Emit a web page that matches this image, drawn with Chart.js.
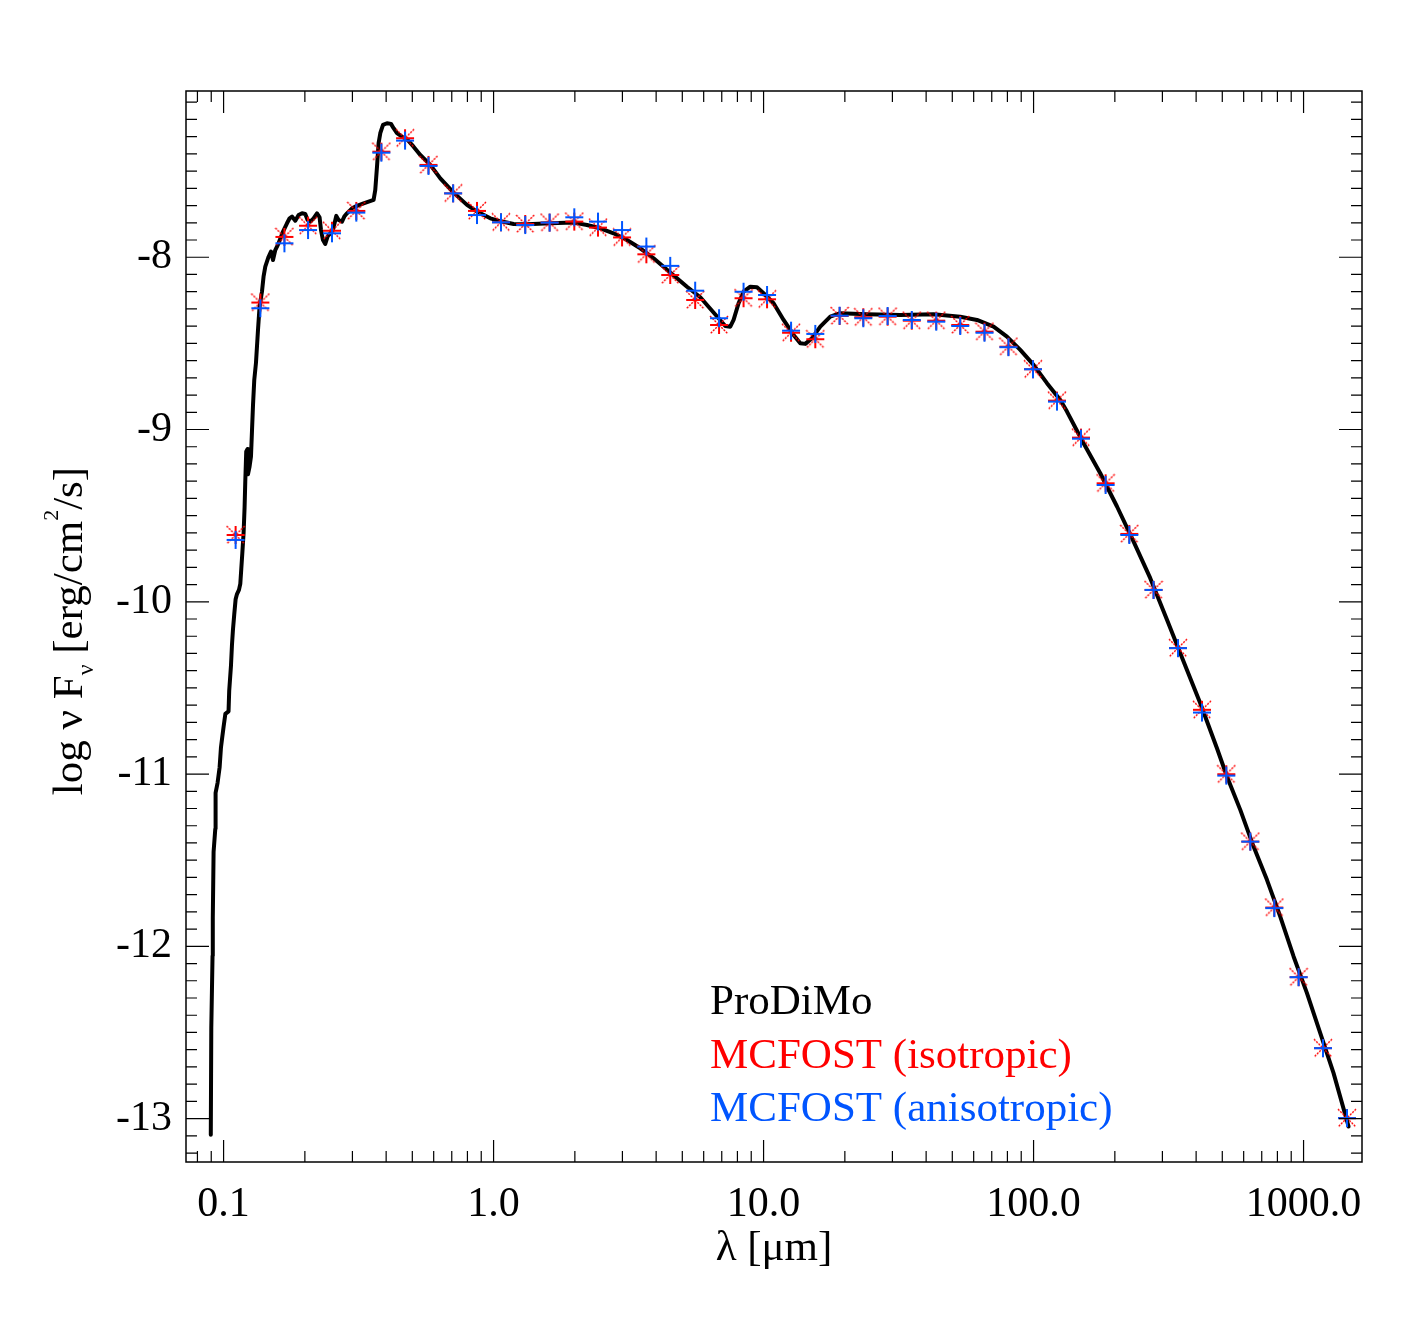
<!DOCTYPE html>
<html>
<head>
<meta charset="utf-8">
<script src="https://cdn.jsdelivr.net/npm/chart.js@4/dist/chart.umd.min.js"></script>
<style>
  html, body { margin: 0; padding: 0; background: #fff; }
  canvas { display: block; }
</style>
</head>
<body>
<canvas id="sed" width="1417" height="1337"></canvas>
<script>
// wavelengths of the MCFOST photometry points [micron]
const wavelength = [0.1108, 0.1368, 0.168, 0.2055, 0.252, 0.310, 0.384, 0.470, 0.574, 0.708,
  0.868, 1.065, 1.31, 1.612, 1.99, 2.436, 2.99, 3.68, 4.51, 5.58,
  6.84, 8.43, 10.3, 12.64, 15.54, 19.12, 23.4, 28.8, 35.4, 43.6,
  53.5, 65.8, 80.7, 99.5, 122.1, 149.8, 184.8, 226.2, 278.2, 342.6,
  420.5, 517.3, 634.7, 778.8, 958.3, 1180, 1448];

// log nu F_nu, MCFOST isotropic scattering
const mcfostIso = [-9.612, -8.263, -7.882, -7.817, -7.846, -7.731, -7.387, -7.309, -7.464, -7.629,
  -7.731, -7.797, -7.807, -7.799, -7.793, -7.828, -7.885, -7.983, -8.103, -8.248,
  -8.393, -8.238, -8.244, -8.438, -8.476, -8.341, -8.348, -8.345, -8.368, -8.368,
  -8.393, -8.432, -8.519, -8.650, -8.832, -9.047, -9.312, -9.606, -9.931, -10.269,
  -10.627, -11.001, -11.392, -11.775, -12.179, -12.591, -12.997];

// log nu F_nu, MCFOST anisotropic scattering
const mcfostAniso = [-9.641, -8.296, -7.919, -7.842, -7.861, -7.741, -7.393, -7.323, -7.470, -7.629,
  -7.755, -7.797, -7.813, -7.799, -7.768, -7.793, -7.842, -7.938, -8.050, -8.194,
  -8.354, -8.200, -8.219, -8.426, -8.445, -8.339, -8.354, -8.341, -8.364, -8.374,
  -8.399, -8.438, -8.522, -8.650, -8.838, -9.053, -9.322, -9.612, -9.931, -10.269,
  -10.643, -11.009, -11.392, -11.778, -12.179, -12.591, -12.997];

// ProDiMo SED (full curve)
const prodimoLam = [0.08966, 0.09004, 0.0910, 0.0912, 0.09182, 0.09316, 0.0934, 0.0950, 0.09665, 0.0978,
  0.0989, 0.1000, 0.1015, 0.1043, 0.1049, 0.1065, 0.1074, 0.1083, 0.1095, 0.1108,
  0.1121, 0.1140, 0.1153, 0.1163, 0.1173, 0.1186, 0.1196, 0.1203, 0.1213, 0.1227,
  0.1231, 0.1248, 0.1263, 0.1274, 0.1285, 0.1299, 0.1318, 0.1341, 0.1359, 0.1387,
  0.1406, 0.1427, 0.1468, 0.1498, 0.1524, 0.1554, 0.1598, 0.1660, 0.1717, 0.1756,
  0.1792, 0.1843, 0.1896, 0.1952, 0.2007, 0.2047, 0.2095, 0.2154, 0.2218, 0.2267,
  0.2295, 0.2334, 0.2380, 0.2427, 0.2484, 0.2542, 0.2614, 0.2666, 0.2745, 0.2799,
  0.2864, 0.2989, 0.3119, 0.3300, 0.3444, 0.3594, 0.3646, 0.3700, 0.3751, 0.3805,
  0.3894, 0.4029, 0.4169, 0.4262, 0.4387, 0.4578, 0.4777, 0.5054, 0.5352, 0.5829,
  0.6348, 0.7110, 0.7969, 0.8679, 0.9723, 1.0743, 1.1861, 1.3297, 1.6218, 1.9785,
  2.2181, 2.4850, 2.7826, 3.1197, 3.4937, 3.9144, 4.5109, 5.2035, 5.8303, 6.1728,
  6.8129, 7.2130, 7.5270, 7.7426, 8.0799, 8.4320, 8.9277, 9.4539, 10.000, 10.890,
  11.861, 12.915, 13.674, 14.270, 15.110, 16.218, 17.660, 19.231, 24.155, 32.082,
  42.616, 53.52, 61.72, 71.11, 79.69, 89.28, 100.0, 112.11, 125.6, 132.97,
  153.17, 176.6, 203.7, 234.7, 270.5, 311.97, 359.4, 414.4, 477.8, 520.3,
  583.0, 652.9, 731.8, 819.7, 918.4, 1029.4, 1153.0, 1291.5, 1468.0];
const prodimoFlux = [-13.094, -12.473, -12.055, -11.835, -11.452, -11.318, -11.109, -11.051, -10.962, -10.844,
  -10.784, -10.725, -10.651, -10.636, -10.517, -10.370, -10.251, -10.163, -10.074, -9.985,
  -9.955, -9.931, -9.896, -9.807, -9.719, -9.600, -9.452, -9.304, -9.127, -9.113,
  -9.260, -9.215, -9.156, -9.008, -8.860, -8.712, -8.613, -8.422, -8.287, -8.200,
  -8.113, -8.055, -7.997, -7.967, -8.016, -7.958, -7.919, -7.851, -7.803, -7.774,
  -7.764, -7.788, -7.755, -7.745, -7.749, -7.784, -7.793, -7.774, -7.745, -7.768,
  -7.842, -7.900, -7.923, -7.880, -7.861, -7.842, -7.760, -7.784, -7.793, -7.764,
  -7.745, -7.716, -7.702, -7.687, -7.677, -7.667, -7.609, -7.474, -7.338, -7.280,
  -7.232, -7.222, -7.226, -7.251, -7.280, -7.300, -7.315, -7.358, -7.406, -7.464,
  -7.542, -7.625, -7.696, -7.735, -7.774, -7.793, -7.807, -7.808, -7.803, -7.799,
  -7.813, -7.832, -7.861, -7.900, -7.948, -8.006, -8.088, -8.171, -8.232, -8.277,
  -8.354, -8.399, -8.403, -8.364, -8.267, -8.200, -8.171, -8.174, -8.209, -8.267,
  -8.364, -8.451, -8.499, -8.503, -8.470, -8.403, -8.345, -8.325, -8.331, -8.335,
  -8.331, -8.345, -8.364, -8.403, -8.461, -8.538, -8.625, -8.731, -8.828, -8.896,
  -9.080, -9.254, -9.447, -9.651, -9.863, -10.105, -10.347, -10.589, -10.850, -11.014,
  -11.208, -11.421, -11.614, -11.827, -12.059, -12.272, -12.504, -12.736, -13.046];

const xTicks = [0.1, 1, 10, 100, 1000];
const xTickLabels = ['0.1', '1.0', '10.0', '100.0', '1000.0'];
const yTicks = [-13, -12, -11, -10, -9, -8];
const legendLabels = ['ProDiMo', 'MCFOST (isotropic)', 'MCFOST (anisotropic)'];

const RED = '#ff0000';
const BLUE = '#0055ff';
const FONT = '"Liberation Serif", "Times New Roman", serif';

// IDL-like symbols: asterisk (psym=2) and plus (psym=1)
function makeAsterisk(color) {
  const c = document.createElement('canvas');
  c.width = 20; c.height = 20;
  const g = c.getContext('2d');
  g.strokeStyle = color;
  g.lineWidth = 2;
  g.beginPath();
  g.moveTo(1, 10); g.lineTo(19, 10);
  g.moveTo(10, 1); g.lineTo(10, 19);
  g.stroke();
  g.lineWidth = 1.4;
  g.setLineDash([2, 1.2]);
  g.beginPath();
  g.moveTo(1, 1); g.lineTo(19, 19);
  g.moveTo(19, 1); g.lineTo(1, 19);
  g.stroke();
  return c;
}
function makePlus(color) {
  const c = document.createElement('canvas');
  c.width = 20; c.height = 20;
  const g = c.getContext('2d');
  g.strokeStyle = color;
  g.lineWidth = 2;
  g.beginPath();
  g.moveTo(1, 10); g.lineTo(19, 10);
  g.moveTo(10, 1); g.lineTo(10, 19);
  g.stroke();
  return c;
}

// box, inward ticks on all four sides, y title and legend text
const idlFrame = {
  id: 'idlFrame',
  afterDraw(chart) {
    const { ctx, chartArea: a, scales: { x, y } } = chart;
    ctx.save();
    ctx.strokeStyle = '#000';
    ctx.lineWidth = 1.5;
    ctx.strokeRect(a.left, a.top, a.right - a.left, a.bottom - a.top);

    ctx.lineWidth = 1.2;
    ctx.beginPath();
    for (let e = -2; e <= 3; e++) {
      for (let m = 1; m <= 9; m++) {
        const v = m * Math.pow(10, e);
        if (v < x.min || v > x.max) continue;
        const px = x.getPixelForValue(v);
        const len = m === 1 ? 22 : 11;
        ctx.moveTo(px, a.bottom); ctx.lineTo(px, a.bottom - len);
        ctx.moveTo(px, a.top); ctx.lineTo(px, a.top + len);
      }
    }
    for (let k = -140; k <= -70; k++) {
      const v = k / 10;
      if (v < y.min || v > y.max) continue;
      const py = y.getPixelForValue(v);
      const len = k % 10 === 0 ? 23 : 11;
      ctx.moveTo(a.left, py); ctx.lineTo(a.left + len, py);
      ctx.moveTo(a.right, py); ctx.lineTo(a.right - len, py);
    }
    ctx.stroke();

    // y axis title with sub/superscripts
    const parts = [
      { t: 'log ν F', size: 43, dy: 0 },
      { t: 'ν', size: 24, dy: 11 },
      { t: ' [erg/cm', size: 43, dy: 0 },
      { t: '2', size: 22, dy: -24 },
      { t: '/s]', size: 43, dy: 0 }
    ];
    let total = 0;
    parts.forEach(p => {
      ctx.font = p.size + 'px ' + FONT;
      p.w = ctx.measureText(p.t).width;
      total += p.w;
    });
    ctx.save();
    ctx.translate(82, 631);
    ctx.rotate(-Math.PI / 2);
    ctx.fillStyle = '#000';
    ctx.textBaseline = 'alphabetic';
    ctx.textAlign = 'left';
    let cx = -total / 2;
    parts.forEach(p => {
      ctx.font = p.size + 'px ' + FONT;
      ctx.fillText(p.t, cx, p.dy);
      cx += p.w;
    });
    ctx.restore();

    // legend text
    const colors = ['#000', RED, BLUE];
    ctx.font = '43px ' + FONT;
    ctx.textAlign = 'left';
    ctx.textBaseline = 'alphabetic';
    legendLabels.forEach((t, i) => {
      ctx.fillStyle = colors[i];
      ctx.fillText(t, 710, 1014 + i * 53.7);
    });
    ctx.restore();
  }
};

Chart.defaults.color = '#000';
Chart.defaults.font.family = FONT;

const ctx = document.getElementById('sed').getContext('2d');
const sedChart = new Chart(ctx, {
  type: 'scatter',
  data: {
    datasets: [
      {
        label: legendLabels[2],
        data: wavelength.map((l, i) => ({ x: l, y: mcfostAniso[i] })),
        pointStyle: makePlus(BLUE),
        pointRadius: 10,
        showLine: false
      },
      {
        label: legendLabels[1],
        data: wavelength.map((l, i) => ({ x: l, y: mcfostIso[i] })),
        pointStyle: makeAsterisk(RED),
        pointRadius: 10,
        showLine: false
      },
      {
        label: legendLabels[0],
        data: prodimoLam.map((l, i) => ({ x: l, y: prodimoFlux[i] })),
        showLine: true,
        borderColor: '#000',
        borderWidth: 4,
        borderJoinStyle: 'round',
        borderCapStyle: 'round',
        pointRadius: 0,
        tension: 0
      }
    ]
  },
  options: {
    responsive: false,
    animation: false,
    events: [],
    layout: { padding: { left: 0, top: 91, right: 55, bottom: 0 } },
    plugins: { legend: { display: false }, tooltip: { enabled: false } },
    scales: {
      x: {
        type: 'logarithmic',
        min: 0.07257,
        max: 1646,
        grid: { display: false, drawTicks: false },
        border: { display: false },
        afterBuildTicks: s => { s.ticks = xTicks.map(v => ({ value: v })); },
        afterFit: s => { s.height = 175; },
        ticks: {
          autoSkip: false,
          maxRotation: 0,
          padding: 18,
          font: { size: 42, family: FONT },
          callback: (v, i) => xTickLabels[i]
        },
        title: {
          display: true,
          text: 'λ [μm]',
          font: { size: 43, family: FONT },
          padding: { top: 0, bottom: 62 }
        }
      },
      y: {
        min: -13.252,
        max: -7.035,
        grid: { display: false, drawTicks: false },
        border: { display: false },
        afterBuildTicks: s => { s.ticks = yTicks.map(v => ({ value: v })); },
        afterFit: s => { s.width = 186; },
        ticks: {
          padding: 14,
          font: { size: 42, family: FONT },
          callback: v => String(v)
        }
      }
    }
  },
  plugins: [idlFrame]
});
</script>
</body>
</html>
